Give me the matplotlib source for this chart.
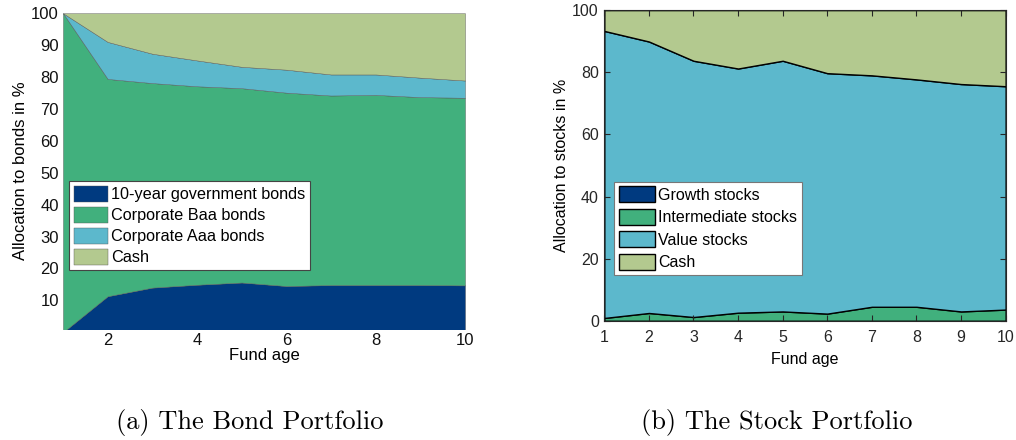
import numpy as np
import matplotlib.pyplot as plt

# Fund age (years)
age = [1, 2, 3, 4, 5, 6, 7, 8, 9, 10]

# Bond portfolio allocations in %
gov_bonds = [0, 11.3, 14.0, 14.9, 15.6, 14.5, 14.8, 14.8, 14.8, 14.7]
baa_bonds = [100, 68.1, 64.1, 62.2, 60.9, 60.6, 59.4, 59.6, 58.9, 58.8]
aaa_bonds = [0, 11.6, 9.2, 8.1, 6.7, 7.2, 6.6, 6.4, 6.1, 5.4]
bond_cash = [0, 9.0, 12.7, 14.8, 16.8, 17.7, 19.2, 19.2, 20.2, 21.1]
bond_labels = ['10-year government bonds', 'Corporate Baa bonds',
               'Corporate Aaa bonds', 'Cash']

# Stock portfolio allocations in %
growth = [0, 0, 0, 0, 0, 0, 0, 0, 0, 0]
inter = [0.9, 2.5, 1.2, 2.6, 3.0, 2.3, 4.5, 4.5, 3.0, 3.6]
value = [92.4, 87.4, 82.5, 78.6, 80.7, 77.4, 74.5, 73.2, 73.2, 71.9]
stock_cash = [6.7, 10.1, 16.3, 18.8, 16.3, 20.3, 21.0, 22.3, 23.8, 24.5]
stock_labels = ['Growth stocks', 'Intermediate stocks', 'Value stocks', 'Cash']

colors = ['#003A80', '#41B07D', '#5CB8CC', '#B3C98F']

plt.rcParams['font.family'] = ['Liberation Sans', 'DejaVu Sans']

fig = plt.figure(figsize=(10.16, 4.4), dpi=100)

# (a) bond portfolio
ax1 = fig.add_axes([0.062, 0.252, 0.3957, 0.718])
ax1.stackplot(age, gov_bonds, baa_bonds, aaa_bonds, bond_cash,
              colors=colors, labels=bond_labels, linewidth=0.3, edgecolor='#555555')
ax1.set_xlim(1, 10)
ax1.set_ylim(1, 100)
ax1.set_xticks([2, 4, 6, 8, 10])
ax1.set_yticks(np.arange(10, 101, 10))
ax1.tick_params(length=0, labelsize=12, colors='#111111', pad=3)
for s in ax1.spines.values():
    s.set_visible(False)
ax1.set_xlabel('Fund age', fontsize=12, labelpad=0)
ax1.set_ylabel('Allocation to bonds in %', fontsize=12, labelpad=2)
leg1 = ax1.legend(loc='lower left', bbox_to_anchor=(0.015, 0.186), fontsize=11.7,
                  fancybox=False, framealpha=1, edgecolor='#444444',
                  handlelength=2.1, handleheight=1.15, handletextpad=0.2,
                  labelspacing=0.28, borderpad=0.3, borderaxespad=0)
leg1.get_frame().set_linewidth(0.8)

# (b) stock portfolio
ax2 = fig.add_axes([0.5948, 0.271, 0.395, 0.706])
ax2.stackplot(age, growth, inter, value, stock_cash,
              colors=colors, labels=stock_labels, linewidth=1.0, edgecolor='black')
ax2.set_xlim(1, 10)
ax2.set_ylim(0, 100)
ax2.set_xticks(age)
ax2.set_yticks([0, 20, 40, 60, 80, 100])
ax2.tick_params(direction='in', length=4, width=0.8, labelsize=11.5,
                colors='#262626', top=True, right=True, pad=4)
ax2.tick_params(axis='x', pad=7)
for s in ax2.spines.values():
    s.set_color('#262626')
    s.set_linewidth(0.8)
ax2.set_xlabel('Fund age', fontsize=11.5, labelpad=5)
ax2.set_ylabel('Allocation to stocks in %', fontsize=11.5, labelpad=2)
leg2 = ax2.legend(loc='lower left', bbox_to_anchor=(0.024, 0.148), fontsize=11.5,
                  fancybox=False, framealpha=1, edgecolor='#777777',
                  handlelength=2.3, handleheight=1.15, handletextpad=0.15,
                  labelspacing=0.38, borderpad=0.3, borderaxespad=0)
leg2.get_frame().set_linewidth(0.8)

# captions
fig.text(0.246, 0.025, '(a) The Bond Portfolio', ha='center', fontsize=19,
         family='cmr10')
fig.text(0.765, 0.025, '(b) The Stock Portfolio', ha='center', fontsize=19,
         family='cmr10')

plt.savefig('out.png', dpi=100)
plt.close()
